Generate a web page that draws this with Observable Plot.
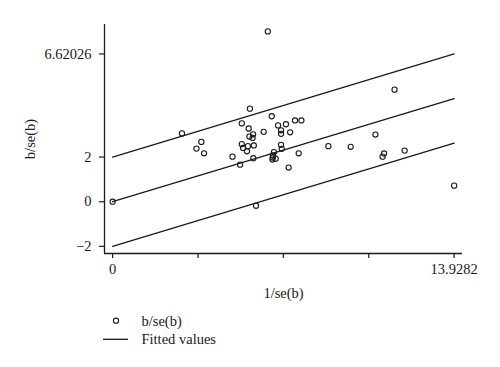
<!DOCTYPE html>
<html><head><meta charset="utf-8">
<script src="https://cdn.jsdelivr.net/npm/d3@7"></script>
<script src="https://cdn.jsdelivr.net/npm/@observablehq/plot@0.6"></script>
<style>
body{margin:0;background:#fff;font-family:"Liberation Serif",serif;}
#chart svg{display:block}
#legend{display:block}
</style></head><body>
<div id="chart"></div>
<svg id="legend" width="500" height="62"></svg>
<script>
// Galbraith plot: standardized estimate b/se(b) versus precision 1/se(b)
const precision = [5.60,6.49,5.27,2.83,5.55,6.75,7.07,7.44,7.70,6.16,6.87,6.87,7.24,5.73,5.58,5.71,3.62,3.42,3.73,5.27,5.32,5.52,5.76,5.48,6.87,6.90,4.89,5.74,6.58,6.54,6.53,6.52,6.65,7.59,5.20,7.18,5.85,6.33,11.50,10.72,8.80,9.71,11.07,11.01,11.91,13.93,0];
const zScore    = [4.17,3.83,3.51,3.06,3.28,3.42,3.47,3.64,3.64,3.13,3.20,3.04,3.11,3.02,2.92,2.86,2.68,2.38,2.17,2.58,2.41,2.49,2.52,2.26,2.55,2.37,2.02,1.95,2.22,2.07,1.98,1.89,1.93,2.17,1.66,1.53,-0.18,7.63,5.02,3.01,2.49,2.46,2.16,2.02,2.29,0.72,0];

// fitted line (through origin) and the ±2 bands, endpoints at x = 0 and x = max precision
const lineX      = [0, 13.9282];
const fittedY    = [0, 4.62026];
const upperY     = [2, 6.62026];
const lowerY     = [-2, 2.62026];

const yTicks      = [-2, 0, 2, 6.62026];
const yTickLabels = ["\u22122", "0", "2", "6.62026"];
const xTicks      = [0, 3.48205, 6.9641, 10.44615, 13.9282];
const xTickLabels = ["0", "", "", "", "13.9282"];

const xTitle = "1/se(b)";
const yTitle = "b/se(b)";
const legendLabels = ["b/se(b)", "Fitted values"];

const xDomain = [-0.33, 14.27];
const yDomain = [-2.32, 7.94];

const points = precision.map((x, i) => ({x, y: zScore[i]}));
const mkLine = (ys, name) => lineX.map((x, i) => ({x, y: ys[i], name}));
const lines = [...mkLine(fittedY, "fit"), ...mkLine(upperY, "up"), ...mkLine(lowerY, "low")];

const ink = "#1a1a1a";
const font = "Liberation Serif, Times New Roman, serif";
const fs = 14.5;

const chart = Plot.plot({
  width: 500,
  height: 305,
  marginLeft: 104,
  marginRight: 38,
  marginTop: 24,
  marginBottom: 52,
  style: {background: "#fff", fontFamily: font, fontSize: fs + "px", color: ink},
  x: {domain: xDomain},
  y: {domain: yDomain},
  marks: [
    Plot.ruleX([xDomain[0]], {stroke: ink, strokeWidth: 1.3}),
    Plot.ruleY([yDomain[0]], {stroke: ink, strokeWidth: 1.3}),
    Plot.axisY({ticks: yTicks, tickSize: 5, tickPadding: 8, tickFormat: (d) => yTickLabels[yTicks.indexOf(d)], label: null, stroke: ink, fill: ink, fontSize: fs, strokeWidth: 1.2}),
    Plot.axisX({ticks: xTicks, tickSize: 5, tickPadding: 5, tickFormat: d => xTickLabels[xTicks.indexOf(d)], label: null, stroke: ink, fill: ink, fontSize: fs, strokeWidth: 1.2}),
    Plot.line(lines, {x: "x", y: "y", z: "name", stroke: ink, strokeWidth: 1.3}),
    Plot.dot(points, {x: "x", y: "y", r: 2.6, stroke: ink, strokeWidth: 1.1, fill: "none"}),
    Plot.text([yTitle], {frameAnchor: "left", rotate: -90, dx: -74, textAnchor: "middle", lineAnchor: "middle", fontSize: fs, fill: ink}),
    Plot.text([xTitle], {frameAnchor: "bottom", dy: 40, textAnchor: "middle", lineAnchor: "middle", fontSize: fs, fill: ink})
  ]
});
document.getElementById("chart").append(chart);

// legend below the chart
const lg = d3.select("#legend").style("font-family", font).style("font-size", fs + "px");
lg.append("circle").attr("cx", 116).attr("cy", 15.7).attr("r", 2.6).attr("fill", "none").attr("stroke", ink).attr("stroke-width", 1.1);
lg.append("line").attr("x1", 103).attr("x2", 128).attr("y1", 34.3).attr("y2", 34.3).attr("stroke", ink).attr("stroke-width", 1.3);
lg.selectAll("text.l").data(legendLabels).join("text").attr("class", "l")
  .attr("x", 141.5).attr("y", (d, i) => 15.7 + i * 18.6).attr("dy", "0.35em").attr("fill", ink).text(d => d);
</script>
</body></html>
